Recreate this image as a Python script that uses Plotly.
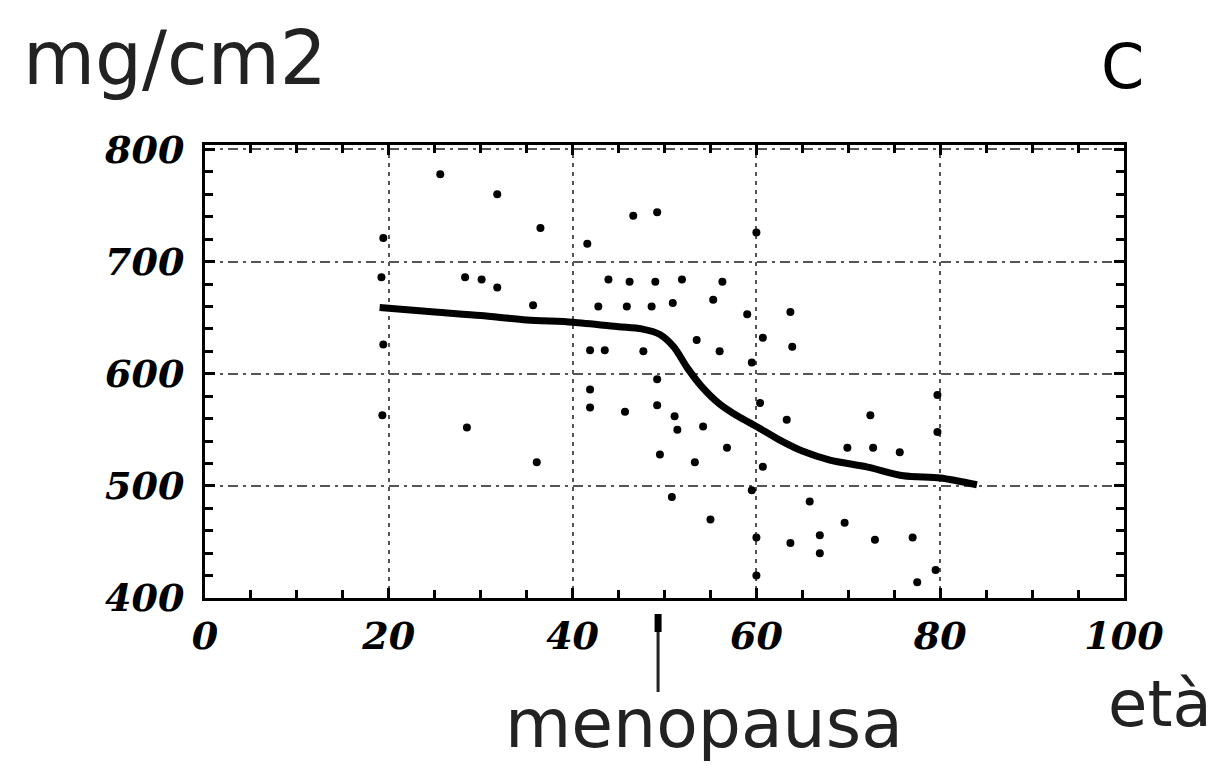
import plotly.graph_objects as go

# ---- data ----
age_points = [25.6, 31.8, 36.5, 19.4, 41.6, 46.6, 49.2, 60.0,
              28.3, 30.1, 31.8, 35.7, 19.2, 43.9, 46.2, 49.0, 51.9, 56.3,
              19.4, 19.3, 28.5, 36.1,
              42.8, 45.9, 48.6, 50.9, 55.3, 59.0, 63.7,
              53.5, 41.9, 43.5, 47.7, 56.0, 60.7, 63.9, 59.5,
              41.9, 41.9, 45.7, 49.2, 49.2, 51.1, 51.4, 54.2, 56.8, 49.5, 53.3,
              60.4, 63.3, 60.7, 59.5, 50.8, 55.0, 60.0, 63.7,
              72.4, 69.9, 72.7, 75.6, 65.8, 69.6, 66.9, 72.9, 77.0, 66.9,
              77.5, 79.7, 79.7, 79.5, 60.0]
bmd_points = [778, 760, 730, 721, 716, 741, 744, 726,
              686, 684, 677, 661, 686, 684, 682, 682, 684, 682,
              626, 563, 552, 521,
              660, 660, 660, 663, 666, 653, 655,
              630, 621, 621, 620, 620, 632, 624, 610,
              586, 570, 566, 595, 572, 562, 550, 553, 534, 528, 521,
              574, 559, 517, 496, 490, 470, 454, 449,
              563, 534, 534, 530, 486, 467, 456, 452, 454, 440,
              414, 581, 548, 425, 420]

age_curve = [19, 25, 30, 35, 40, 45, 47.5, 49.5, 51, 52.5, 54, 56, 58, 60,
             62.5, 65, 68, 72, 76, 80, 84]
bmd_curve = [659, 655, 652, 648, 646, 642, 640, 635, 624, 605, 589, 573, 562, 553,
             541, 531, 523, 517, 509, 507, 501]

x_ticks = [0, 20, 40, 60, 80, 100]
y_ticks = [400, 500, 600, 700, 800]
menopause_age = 49.3

# ---- layout geometry (pixels, figure coordinates; page has an 8px body margin) ----
OFF = 8
W, H = 1209, 759
L, T = 205 - OFF, 145 - OFF
R = W - (1124 - OFF)
B = H - (598 - OFF)
PW, PH = W - L - R, H - T - B


def px(xp):
    # reference page pixel -> paper x
    return (xp - OFF - L) / PW


def py(yp):
    # reference page pixel -> paper y
    return (H - B - (yp - OFF)) / PH


fig = go.Figure()
fig.add_trace(go.Scatter(x=age_points, y=bmd_points, mode="markers",
                         marker=dict(color="black", size=8, symbol="circle"),
                         showlegend=False, hoverinfo="skip"))
fig.add_trace(go.Scatter(x=age_curve, y=bmd_curve, mode="lines",
                         line=dict(color="black", width=7, shape="spline", smoothing=0.8),
                         showlegend=False, hoverinfo="skip"))

tickfont = dict(family="DejaVu Serif", size=38, color="black",
                weight="bold", style="italic")

fig.update_xaxes(range=[0, 100], tickvals=x_ticks, ticktext=[str(v) for v in x_ticks],
                 showline=True, linecolor="black", linewidth=3, mirror="allticks",
                 ticks="inside", ticklen=10, tickwidth=3, tickcolor="black",
                 minor=dict(dtick=5, ticks="inside", ticklen=8, tickwidth=3,
                            tickcolor="black", showgrid=False),
                 showgrid=True, gridcolor="#555", gridwidth=2, griddash="4px,5px",
                 zeroline=False, tickfont=tickfont, ticklabelstandoff=2)
fig.update_yaxes(range=[400, 804], tickvals=y_ticks, ticktext=[str(v) for v in y_ticks],
                 showline=True, linecolor="black", linewidth=3, mirror="allticks",
                 ticks="inside", ticklen=10, tickwidth=3, tickcolor="black",
                 minor=dict(dtick=20, ticks="inside", ticklen=8, tickwidth=3,
                            tickcolor="black", showgrid=False),
                 showgrid=True, gridcolor="#555", gridwidth=2, griddash="10px,5px,3px,5px",
                 zeroline=False, tickfont=tickfont, ticklabelstandoff=10)

fig.add_annotation(text="mg/cm2", xref="paper", yref="paper", x=px(175), y=py(58),
                   xanchor="center", yanchor="middle", showarrow=False,
                   font=dict(family="DejaVu Sans", size=74, color="#222"))
fig.add_annotation(text="C", xref="paper", yref="paper", x=px(1122), y=py(66),
                   xanchor="center", yanchor="middle", showarrow=False,
                   font=dict(family="DejaVu Sans", size=62, color="black"))
fig.add_annotation(text="menopausa", xref="paper", yref="paper", x=px(704), y=py(765),
                   xanchor="center", yanchor="bottom", showarrow=False,
                   font=dict(family="DejaVu Sans", size=68, color="#222"))
fig.add_annotation(text="età", xref="paper", yref="paper", x=px(1214), y=py(704),
                   xanchor="right", yanchor="middle", showarrow=False,
                   font=dict(family="DejaVu Sans", size=64, color="#222"))

# menopause marker below the x axis
fig.add_shape(type="line", xref="x", yref="paper", x0=menopause_age, x1=menopause_age,
              y0=py(616), y1=py(692), line=dict(color="#222", width=3))
fig.add_shape(type="line", xref="x", yref="paper", x0=menopause_age, x1=menopause_age,
              y0=py(614), y1=py(632), line=dict(color="black", width=7))

fig.update_layout(width=W, height=H, margin=dict(l=L, r=R, t=T, b=B),
                  plot_bgcolor="white", paper_bgcolor="white")

fig.write_html("out.html")
